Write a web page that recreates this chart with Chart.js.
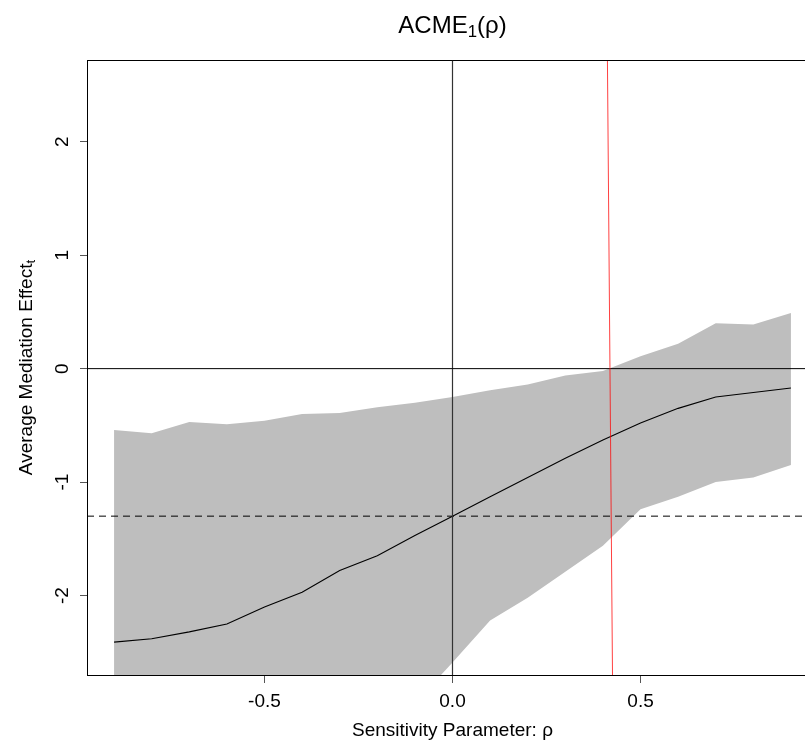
<!DOCTYPE html>
<html>
<head>
<meta charset="utf-8">
<script src="https://cdn.jsdelivr.net/npm/chart.js@4.4.1/dist/chart.umd.min.js"></script>
<style>
  html, body { margin: 0; padding: 0; overflow: hidden; background: #fff; }
  #wrap { width: 830px; height: 741px; }
</style>
</head>
<body>
<div id="wrap"><canvas id="chart" width="830" height="741"></canvas></div>
<script>
// sensitivity parameter rho and the ACME estimate with its confidence band
const rho = [-0.9, -0.8, -0.7, -0.6, -0.5, -0.4, -0.3, -0.2, -0.1, 0.0,
  0.1, 0.2, 0.3, 0.4, 0.5, 0.6, 0.7, 0.8, 0.9];
const acme = [-2.41, -2.38, -2.32, -2.25, -2.10, -1.97, -1.78, -1.65, -1.47, -1.30,
  -1.13, -0.96, -0.79, -0.63, -0.48, -0.35, -0.25, -0.21, -0.17];
const upper = [-0.54, -0.57, -0.47, -0.49, -0.46, -0.40, -0.39, -0.34, -0.30, -0.25,
  -0.19, -0.14, -0.06, -0.02, 0.11, 0.22, 0.40, 0.39, 0.49];
// lower bound runs off the bottom of the plot for rho < 0, values guessed
const lower = [-4.30, -4.20, -4.05, -3.95, -3.75, -3.55, -3.30, -3.15, -2.95, -2.59,
  -2.22, -2.02, -1.79, -1.56, -1.24, -1.13, -1.00, -0.96, -0.85];

const xTicks = [-0.5, 0.0, 0.5];
const yTicks = [-2, -1, 0, 1, 2];
const xRange = [-0.972, 0.972];
const yRange = [-2.70, 2.72];

const acmeAtZero = -1.30;          // dashed reference line
const redLineX = [0.412, 0.4255];  // red line, top and bottom
const redLineY = [2.72, -2.70];

const FONT = '"Liberation Sans", Arial, Helvetica, sans-serif';

function pts(xs, ys) {
  return xs.map((x, i) => ({ x, y: ys[i] }));
}

// draw "text with subscript" pieces centred at cx on the given baseline
function drawMath(ctx, parts, cx, base, size) {
  const sub = size * 0.7;
  let w = 0;
  parts.forEach(p => {
    ctx.font = (p.sub ? sub : size) + "px " + FONT;
    p.w = ctx.measureText(p.t).width;
    w += p.w;
  });
  let x = cx - w / 2;
  ctx.textAlign = "left";
  ctx.textBaseline = "alphabetic";
  parts.forEach(p => {
    ctx.font = (p.sub ? sub : size) + "px " + FONT;
    ctx.fillText(p.t, x, p.sub ? base + size * 0.17 : base);
    x += p.w;
  });
}

const rText = {
  id: "rText",
  afterDraw(chart) {
    const { ctx, chartArea: a, scales } = chart;
    const cx = (a.left + a.right) / 2;
    ctx.save();
    ctx.fillStyle = "#000";

    // top side of the box
    ctx.strokeStyle = "#000";
    ctx.lineWidth = 1;
    ctx.beginPath();
    ctx.moveTo(a.left, Math.round(a.top) + 0.5);
    ctx.lineTo(a.right, Math.round(a.top) + 0.5);
    ctx.stroke();

    // y tick labels, parallel to the axis like R
    ctx.font = "19px " + FONT;
    yTicks.forEach(v => {
      ctx.save();
      ctx.translate(a.left - 19, scales.y.getPixelForValue(v));
      ctx.rotate(-Math.PI / 2);
      ctx.textAlign = "center";
      ctx.textBaseline = "alphabetic";
      ctx.fillText(String(v), 0, 0);
      ctx.restore();
    });

    drawMath(ctx, [{ t: "ACME" }, { t: "1", sub: true }, { t: "(ρ)" }], cx, 33, 24);
    drawMath(ctx, [{ t: "Sensitivity Parameter: ρ" }], cx, 736, 19);

    ctx.save();
    ctx.translate(32, (a.top + a.bottom) / 2);
    ctx.rotate(-Math.PI / 2);
    drawMath(ctx, [{ t: "Average Mediation Effect" }, { t: "t", sub: true }], 0, 0, 19);
    ctx.restore();

    ctx.restore();
  }
};

const thin = { pointRadius: 0, tension: 0, fill: false };

new Chart(document.getElementById("chart"), {
  type: "line",
  data: {
    datasets: [
      { ...thin, data: pts(rho, upper), borderWidth: 0, borderColor: "rgba(0,0,0,0)",
        backgroundColor: "#bebebe", fill: "+1", order: 10 },
      { ...thin, data: pts(rho, lower), borderWidth: 0, borderColor: "rgba(0,0,0,0)", order: 10 },
      { ...thin, data: pts(rho, acme), borderColor: "#000", borderWidth: 1.1, order: 5 },
      { ...thin, data: pts(xRange, [0, 0]), borderColor: "#000", borderWidth: 1, order: 3 },
      { ...thin, data: pts([0, 0], yRange), borderColor: "#333", borderWidth: 1.2, order: 3 },
      { ...thin, data: pts(xRange, [acmeAtZero, acmeAtZero]), borderColor: "#000",
        borderWidth: 1, borderDash: [7, 5], order: 3 },
      { ...thin, data: pts(redLineX, redLineY), borderColor: "rgba(255,0,0,0.75)",
        borderWidth: 1, order: 1 },
    ],
  },
  options: {
    responsive: false,
    animation: false,
    devicePixelRatio: 1,
    layout: { padding: { top: 60, right: 12, left: 0, bottom: 0 } },
    plugins: {
      legend: { display: false },
      tooltip: { enabled: false },
    },
    scales: {
      x: {
        type: "linear",
        min: xRange[0],
        max: xRange[1],
        afterBuildTicks: (s) => { s.ticks = xTicks.map(value => ({ value })); },
        afterFit: (s) => { s.height = 66; },
        grid: { drawOnChartArea: false, tickLength: 8, color: "#000", tickColor: "#555" },
        border: { display: true, color: "#000", width: 1 },
        ticks: {
          color: "#000",
          padding: 7,
          maxRotation: 0,
          autoSkip: false,
          font: { family: FONT, size: 19 },
          callback: (v) => v.toFixed(1),
        },
      },
      y: {
        type: "linear",
        min: yRange[0],
        max: yRange[1],
        afterBuildTicks: (s) => { s.ticks = yTicks.map(value => ({ value })); },
        afterFit: (s) => { s.width = 87; },
        grid: { drawOnChartArea: false, tickLength: 7, color: "#000", tickColor: "#555" },
        border: { display: true, color: "#000", width: 1 },
        ticks: { display: false },
      },
    },
  },
  plugins: [rText],
});
</script>
</body>
</html>
